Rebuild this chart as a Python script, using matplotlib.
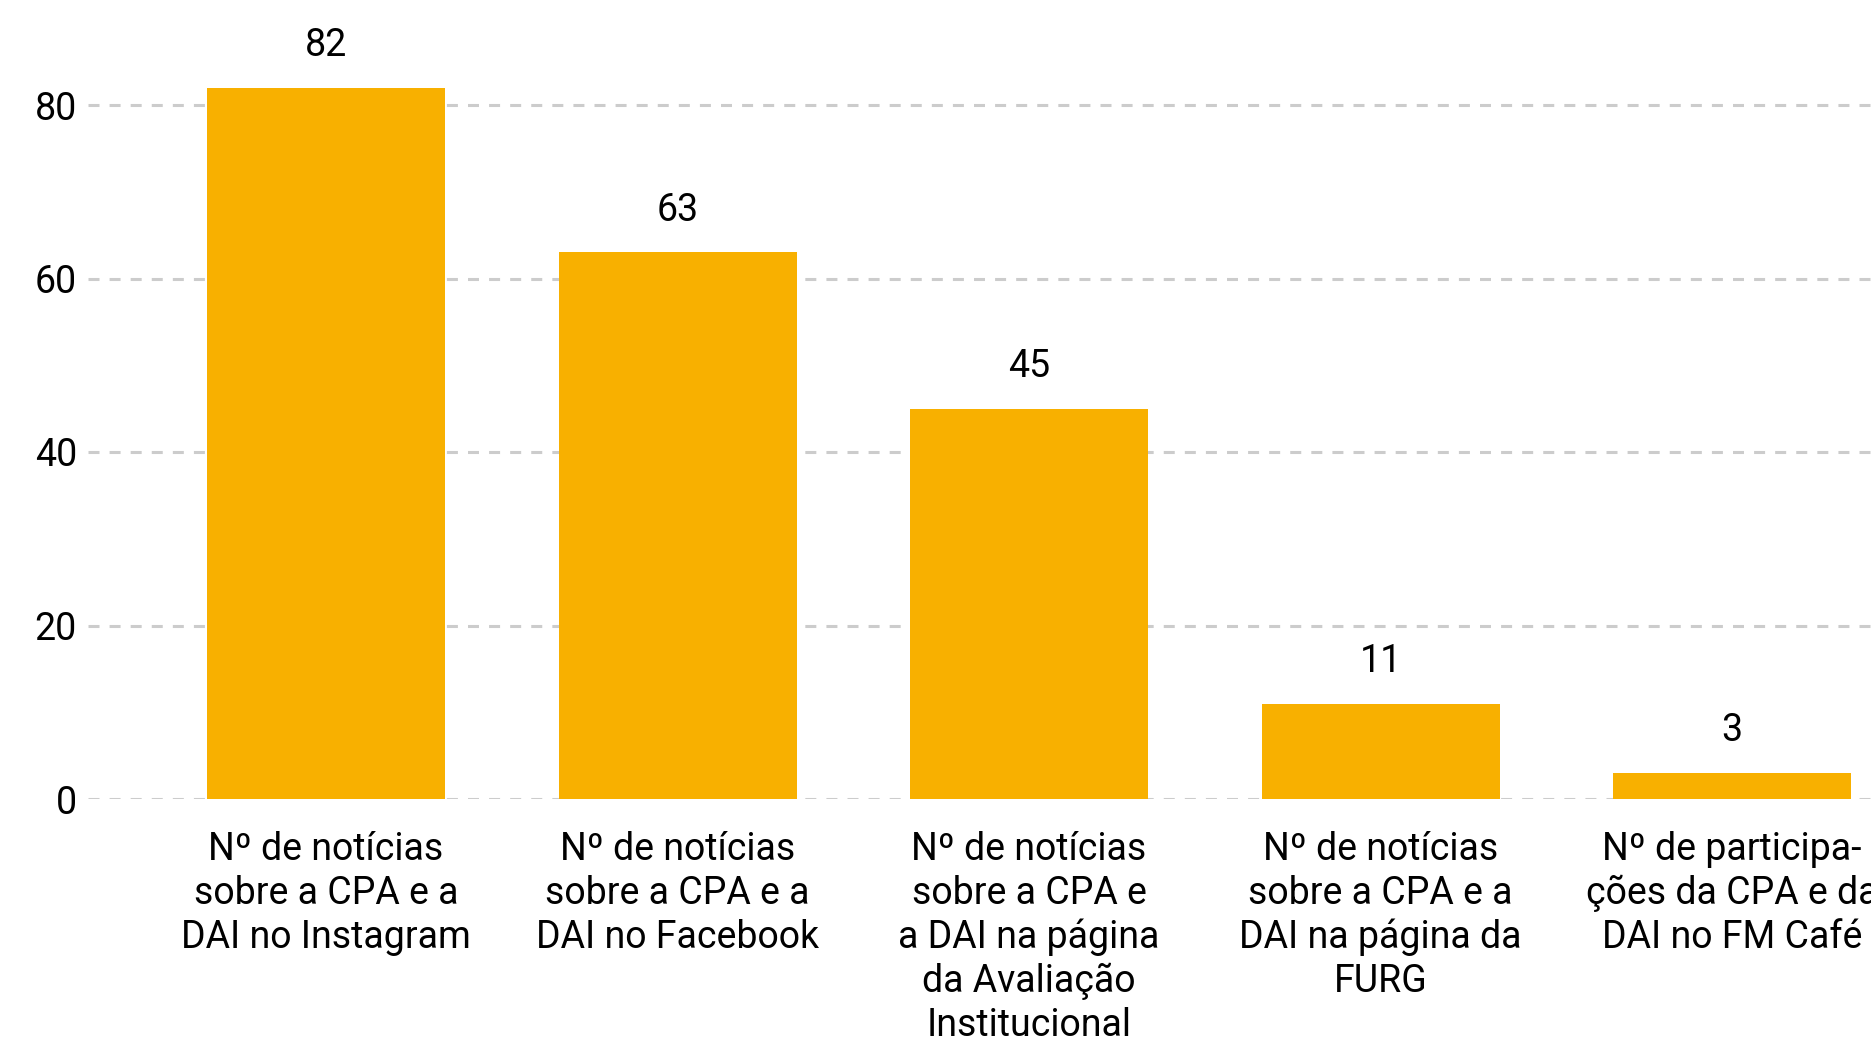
import matplotlib
matplotlib.use('Agg')
import matplotlib.pyplot as plt
import numpy as np

plt.rcParams['font.family'] = ['Roboto', 'DejaVu Sans']

# dados
categorias = [
    'Nº de notícias\nsobre a CPA e a\nDAI no Instagram',
    'Nº de notícias\nsobre a CPA e a\nDAI no Facebook',
    'Nº de notícias\nsobre a CPA e\na DAI na página\nda Avaliação\nInstitucional',
    'Nº de notícias\nsobre a CPA e a\nDAI na página da\nFURG',
    'Nº de participa-\nções da CPA e da\nDAI no FM Café',
]
valores = [82, 63, 45, 11, 3]
yticks = [0, 20, 40, 60, 80]

W, H = 1871, 1040
fig = plt.figure(figsize=(W / 100, H / 100), dpi=100)
ax = fig.add_axes([88 / W, 241 / H, (W - 88) / W, 780.75 / H])

x = np.arange(len(valores))
ax.bar(x, valores, width=0.677, color='#F8B000', zorder=2)

for xi, v in zip(x, valores):
    ax.annotate(str(v), (xi, v), xytext=(0, 17), textcoords='offset points',
                ha='center', va='bottom', fontsize=27, color='black',
                annotation_clip=False)

ax.set_xlim(-0.677, 4.395)
ax.set_ylim(0, 90)
ax.set_yticks(yticks)
ax.set_xticks(x)
ax.set_xticklabels(categorias, fontsize=27, linespacing=1.235)
ax.tick_params(axis='x', length=0, pad=23)
ax.tick_params(axis='y', length=0, pad=8, labelsize=27)

ax.grid(axis='y', color='#cccccc', linewidth=2.2, linestyle=(0, (3.6, 3.3)), zorder=0)
for s in ax.spines.values():
    s.set_visible(False)

fig.savefig('out.png', dpi=100)
